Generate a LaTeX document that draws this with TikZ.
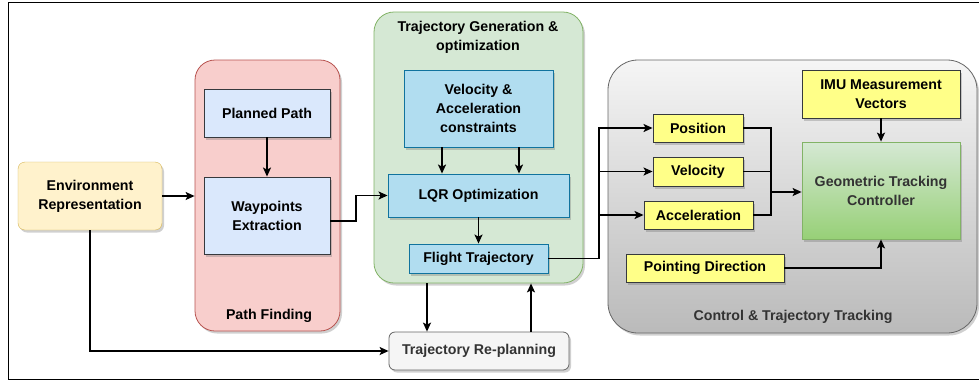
\documentclass[tikz,border=0pt]{standalone}
\usepackage{fontspec}
\setmainfont{Liberation Sans}
\usetikzlibrary{arrows.meta,shadows,calc}
\definecolor{envfill}{HTML}{FFF2CC}
\definecolor{envdraw}{HTML}{D6B656}
\definecolor{redfill}{HTML}{F8CECC}
\definecolor{reddraw}{HTML}{B85450}
\definecolor{bluefill}{HTML}{DAE8FC}
\definecolor{darkdraw}{HTML}{36393D}
\definecolor{greenfill}{HTML}{D5E8D4}
\definecolor{greendraw}{HTML}{82B366}
\definecolor{cyanfill}{HTML}{B1DDF0}
\definecolor{cyandraw}{HTML}{10739E}
\definecolor{grayfill}{HTML}{F5F5F5}
\definecolor{graydraw}{HTML}{666666}
\definecolor{yelfill}{HTML}{FFFF88}
\definecolor{geobot}{HTML}{97D077}
\definecolor{txtgray}{HTML}{333333}
\tikzset{
  base/.style={inner sep=0pt, align=center, font=\fontsize{14.2}{19}\selectfont\bfseries,
    drop shadow={shadow xshift=2pt, shadow yshift=-2.5pt, opacity=0.3, fill=black!60}},
  cont/.style={base, line width=0.8pt},
  bluebox/.style={base, draw=darkdraw, fill=bluefill, line width=0.9pt},
  cyanbox/.style={base, draw=cyandraw, fill=cyanfill, line width=0.9pt},
  yelbox/.style={base, draw=darkdraw, fill=yelfill, line width=0.9pt},
  lbl/.style={inner sep=0pt, align=center, font=\fontsize{14.2}{19}\selectfont\bfseries},
  arr/.style={line width=1.4pt, -{Stealth[length=9pt,width=8pt,inset=2pt]}},
  ln/.style={line width=1.4pt}
}
\begin{document}
\begin{tikzpicture}[x=1pt,y=-1pt]
\useasboundingbox (0,0) rectangle (979,381);
\fill[white] (0,0) rectangle (979,381);
\draw[line width=0.9pt] (981,2) -- (8,2) -- (8,379) -- (981,379);

% containers
\node[cont, draw=reddraw, fill=redfill, rounded corners=20pt, minimum width=145pt, minimum height=271pt] (pf) at (267.5,195.5) {};
\node[cont, draw=greendraw, fill=greenfill, rounded corners=20pt, minimum width=209pt, minimum height=271pt] (gc) at (478.5,147.5) {};
\node[cont, draw=graydraw, top color=grayfill, bottom color=black!27, rounded corners=30pt, minimum width=369pt, minimum height=273pt] (ct) at (792.5,196.5) {};

% labels of containers
\node[lbl] at (269,316) {Path Finding};
\node[lbl] at (478,37) {Trajectory Generation \&\\optimization};
\node[lbl, text=txtgray] at (793,317) {Control \& Trajectory Tracking};

% nodes
\node[base, draw=envdraw, fill=envfill, rounded corners=7pt, minimum width=144pt, minimum height=68pt] (env) at (90,196) {Environment\\Representation};
\node[bluebox, minimum width=126pt, minimum height=48pt] (pp) at (267,113) {Planned Path};
\node[bluebox, minimum width=126pt, minimum height=77pt] (wp) at (267,215.5) {Waypoints\\Extraction};
\node[cyanbox, minimum width=149pt, minimum height=77pt] (vac) at (478.5,108.5) {Velocity \&\\Acceleration\\constraints};
\node[cyanbox, minimum width=181pt, minimum height=43pt] (lqr) at (478.5,195.5) {LQR Optimization};
\node[cyanbox, minimum width=139pt, minimum height=29pt] (ft) at (478.5,258.5) {Flight Trajectory};
\node[base, draw=graydraw, fill=grayfill, rounded corners=6pt, line width=0.8pt, minimum width=180pt, minimum height=38pt, text=txtgray] (rp) at (479,351) {Trajectory Re-planning};

\node[yelbox, minimum width=90pt, minimum height=28pt] (pos) at (698,128) {Position};
\node[yelbox, minimum width=90pt, minimum height=29pt] (vel) at (698,171.5) {Velocity};
\node[yelbox, minimum width=109pt, minimum height=28pt] (acc) at (698.5,215) {Acceleration};
\node[yelbox, minimum width=158pt, minimum height=28pt] (pd) at (705,268) {Pointing Direction};
\node[yelbox, minimum width=158pt, minimum height=48pt] (imu) at (881,94) {IMU Measurement\\Vectors};
\node[base, draw=greendraw, top color=greenfill, bottom color=geobot, line width=0.8pt, minimum width=158pt, minimum height=97pt, text=txtgray] (geo) at (881,190.5) {Geometric Tracking\\Controller};

% helper coordinates
\coordinate (wx) at (356,0);
\coordinate (bx) at (599,0);
\coordinate (mx) at (771,0);
\coordinate (d1) at (427,0);
\coordinate (u1) at (531,0);
\coordinate (v1) at (442,0);
\coordinate (v2) at (519,0);

% connectors
\draw[arr] (env.east) -- (env.east -| pf.west);
\draw[arr] (pp.south) -- (wp.north);
\draw[arr] ([yshift=-5.5pt]wp.east) -- ([yshift=-5.5pt]wp.east -| wx) |- (lqr.west);
\draw[arr] (v1 |- vac.south) -- (v1 |- lqr.north);
\draw[arr] (v2 |- vac.south) -- (v2 |- lqr.north);
\draw[arr] (lqr.south) -- (ft.north);
\draw[arr] (ft.east) -- (ft.east -| bx) |- (pos.west);
\draw[arr] (bx |- vel.west) -- (vel.west);
\draw[arr] (bx |- acc.west) -- (acc.west);
\draw[ln] (pos.east) -- (pos.east -| mx) -- (mx |- acc.east) -- (acc.east);
\draw[ln] (vel.east) -- (vel.east -| mx);
\draw[arr] ([yshift=-1.5pt]mx |- geo.west) -- ([yshift=-1.5pt]geo.west);
\draw[arr] (imu.south) -- (geo.north);
\draw[arr] (pd.east) -| (geo.south);
\draw[arr] (env.south) |- (rp.west);
\draw[arr] (d1 |- gc.south) -- (d1 |- rp.north);
\draw[arr] (u1 |- rp.north) -- (u1 |- gc.south);
\end{tikzpicture}
\end{document}
